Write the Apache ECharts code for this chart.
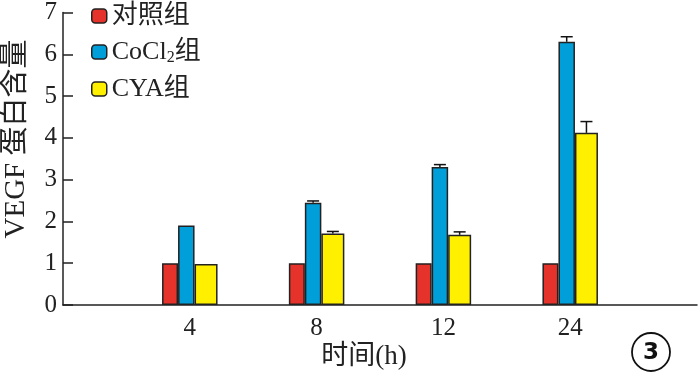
<!DOCTYPE html>
<html><head><meta charset="utf-8">
<script src="https://cdn.jsdelivr.net/npm/echarts@6/dist/echarts.min.js"></script>
<style>html,body{margin:0;padding:0;background:#fff}#c{width:700px;height:375px}</style>
</head><body><div id="c"></div>
<script>
var categories = ['', '4', '8', '12', '24', ''];
var seriesNames = ['对照组', 'CoCl2组', 'CYA组'];
var controlVals = [null, 1.0, 1.0, 1.0, 1.0, null];
var cocl2Vals = [null, 1.9, 2.45, 3.3, 6.3, null];
var cyaVals = [null, 0.98, 1.71, 1.68, 4.12, null];
var cocl2Err = [null, 0, 0.04, 0.06, 0.12, null];
var cyaErr = [null, 0, 0.05, 0.07, 0.27, null];
var yTicks = [0, 1, 2, 3, 4, 5, 6, 7];

var FONT = "'Liberation Serif','Noto Sans CJK SC',serif";
var chart = echarts.init(document.getElementById('c'));
var BORDER = '#222';
var widths = [16, 16.5, 23];
var total = widths[0] + widths[1] + widths[2];
function centerOffset(i) { var s = -total / 2; for (var k = 0; k < i; k++) s += widths[k]; return s + widths[i] / 2; }

function errData(vals, errs) {
  var out = [];
  for (var i = 0; i < vals.length; i++) {
    if (vals[i] != null && errs[i]) out.push([i, vals[i], vals[i] + errs[i]]);
  }
  return out;
}
function errSeries(vals, errs, idx) {
  var off = centerOffset(idx);
  return {
    type: 'custom', z: 10, silent: true,
    data: errData(vals, errs),
    renderItem: function (params, api) {
      var base = api.coord([api.value(0), api.value(1)]);
      var top = api.coord([api.value(0), api.value(2)]);
      var x = base[0] + off;
      var st = { stroke: '#111', lineWidth: 1.5 };
      return { type: 'group', children: [
        { type: 'line', shape: { x1: x, y1: base[1], x2: x, y2: top[1] }, style: st },
        { type: 'line', shape: { x1: x - 6, y1: top[1], x2: x + 6, y2: top[1] }, style: st }
      ]};
    }
  };
}

var option = {
  animation: false,
  grid: { left: 63, right: 0, top: 7.5, bottom: 70, containLabel: false },
  legend: {
    orient: 'vertical', left: 86, top: -2, itemWidth: 15, itemHeight: 14, itemGap: 10,
    data: seriesNames,
    itemStyle: { borderColor: BORDER, borderWidth: 1.5 },
    formatter: function (n) { return n === 'CoCl2组' ? 'CoCl{sub|2}组' : n; },
    textStyle: { fontFamily: FONT, fontSize: 26, color: '#222', padding: [0, 0, 0, 0],
      rich: { sub: { fontFamily: FONT, fontSize: 16, color: '#222', verticalAlign: 'bottom', padding: [12, 0, 0, 0] } } }
  },
  xAxis: {
    type: 'category', data: categories, boundaryGap: false,
    axisLine: { lineStyle: { color: '#222', width: 1.5 } },
    axisTick: { show: false },
    axisLabel: { fontFamily: FONT, fontSize: 25, color: '#222', margin: 11, interval: 0 }
  },
  yAxis: {
    type: 'value', min: 0, max: 7, interval: 1,
    axisLine: { show: true, lineStyle: { color: '#222', width: 1.5 } },
    axisTick: { show: true, inside: true, length: 10, lineStyle: { color: '#222', width: 1.5 } },
    splitLine: { show: false },
    axisLabel: { fontFamily: FONT, fontSize: 25, color: '#222', margin: 6,
      formatter: function (v) { return yTicks.indexOf(v) >= 0 ? String(v) : ''; } }
  },
  graphic: [
    { type: 'text', x: 16, y: 139, rotation: Math.PI / 2,
      style: { text: 'VEGF 蛋白含量', font: '29px ' + FONT, fill: '#222', textAlign: 'center', textVerticalAlign: 'middle' } },
    { type: 'text', x: 364, y: 357,
      style: { text: '时间(h)', font: '27px ' + FONT, fill: '#222', textAlign: 'center', textVerticalAlign: 'middle' } },
    { type: 'circle', shape: { cx: 651, cy: 352, r: 19 }, style: { fill: 'none', stroke: '#111', lineWidth: 1.8 } },
    { type: 'text', x: 651, y: 353, style: { text: '3', font: 'bold 23px "DejaVu Sans", sans-serif', fill: '#111', textAlign: 'center', textVerticalAlign: 'middle' } }
  ],
  series: [
    { name: seriesNames[0], type: 'bar', data: controlVals, barWidth: widths[0], barGap: 0,
      itemStyle: { color: '#E5322B', borderColor: BORDER, borderWidth: 1.5 } },
    { name: seriesNames[1], type: 'bar', data: cocl2Vals, barWidth: widths[1], barGap: 0,
      itemStyle: { color: '#009FDA', borderColor: BORDER, borderWidth: 1.5 } },
    { name: seriesNames[2], type: 'bar', data: cyaVals, barWidth: widths[2], barGap: 0,
      itemStyle: { color: '#FFF000', borderColor: BORDER, borderWidth: 1.5 } },
    errSeries(cocl2Vals, cocl2Err, 1),
    errSeries(cyaVals, cyaErr, 2)
  ]
};
chart.setOption(option);
</script>
</body></html>
